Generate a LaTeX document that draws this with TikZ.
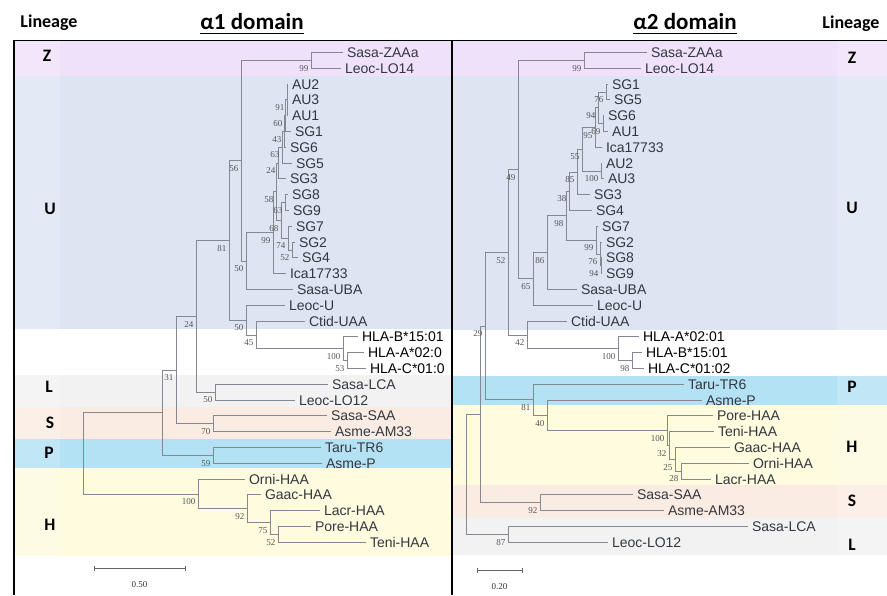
\documentclass[tikz,border=0pt]{standalone}
\usepackage{fontspec}
\setmainfont{Liberation Sans}
\newfontfamily\bsfont{Liberation Serif}
\newfontfamily\hdfont{Carlito}
\definecolor{bandZ}{HTML}{EFE1FA}
\definecolor{bandU}{HTML}{DDE5F3}
\definecolor{bandL}{HTML}{F2F2F2}
\definecolor{bandS}{HTML}{FBECE3}
\definecolor{bandP}{HTML}{B4E2F5}
\definecolor{bandH}{HTML}{FEFBDF}
\definecolor{brc}{HTML}{848890}
\definecolor{leafc}{HTML}{33373F}
\definecolor{bsc}{HTML}{555555}
\begin{document}
\begin{tikzpicture}[x=1pt,y=-1pt,
  br/.style={draw=brc, line width=0.85pt},
  lf/.style={anchor=west, inner ysep=0pt, inner xsep=0pt, outer xsep=4pt, outer ysep=0pt,
    text height=10pt, text depth=0pt, font=\fontsize{14}{14}\selectfont, text=leafc},
  lfk/.style={lf, text=black},
  bs/.style={anchor=north east, inner sep=0pt, xshift=-2.5pt, yshift=-4.5pt,
    font=\bsfont\fontsize{9}{9}\selectfont, text=bsc},
  lin/.style={anchor=base, inner sep=0pt, font=\hdfont\bfseries\fontsize{18}{18}\selectfont},
  lett/.style={anchor=base, inner sep=0pt, font=\hdfont\bfseries\fontsize{17.5}{17.5}\selectfont},
  ttl/.style={anchor=base, inner sep=0pt, text depth=0pt, font=\hdfont\bfseries\fontsize{23}{23}\selectfont},
  frame/.style={draw=black, line width=1.8pt},
  sbar/.style={draw=gray!80!black, line width=0.8pt},
  sbt/.style={inner sep=0pt, font=\bsfont\fontsize{9}{9}\selectfont, text=black!80}
]
\useasboundingbox (0,0) rectangle (887,595);
% ---------- bands, left panel ----------
\fill[bandZ] (15,41) rectangle (452,76);
\fill[bandU] (15,76) rectangle (452,329);
\fill[bandL] (15,375) rectangle (452,407);
\fill[bandS] (15,407) rectangle (452,439);
\fill[bandP] (15,439) rectangle (452,468);
\fill[bandH] (15,468) rectangle (452,556);
% ---------- bands, right panel ----------
\fill[bandZ] (453,41) rectangle (887,76);
\fill[bandU] (453,76) rectangle (887,330);
\fill[bandP] (453,376) rectangle (887,405);
\fill[bandH] (453,405) rectangle (887,485);
\fill[bandS] (453,485) rectangle (887,518);
\fill[bandL] (453,518) rectangle (887,555);
% lighter label columns
\fill[white, opacity=0.18] (15,41) rectangle (60,556);
\fill[white, opacity=0.18] (837,41) rectangle (887,556);
% ---------- headers ----------
\node[lin] (linL) at (49,27.5) {Lineage};
\node[lin] (linR) at (851,28) {Lineage};
\node[ttl] (t1) at (252,29) {α1 domain};
\node[ttl] (t2) at (685,29) {α2 domain};
\draw[line width=1.3pt] ([yshift=-4pt]t1.south west) -- ([yshift=-4pt]t1.south east);
\draw[line width=1.3pt] ([yshift=-4pt]t2.south west) -- ([yshift=-4pt]t2.south east);
% lineage letters
\node[lett] (zL) at (47,61) {Z};
\node[lett] (uL) at (50,214) {U};
\node[lett] (lL) at (49,392) {L};
\node[lett] (sL) at (50,428) {S};
\node[lett] (pL) at (49,458) {P};
\node[lett] (hL) at (50,530) {H};
\node[lett] (zR) at (852,63) {Z};
\node[lett] (uR) at (852,213) {U};
\node[lett] (pR) at (852,392) {P};
\node[lett] (hR) at (852,452) {H};
\node[lett] (sR) at (852,506) {S};
\node[lett] (lR) at (852,550) {L};
% ---------- frame ----------
\draw[frame] (14,595) -- (14,40.5) -- (887,40.5);
\draw[frame] (452,40.5) -- (452,595);

% ================= LEFT TREE (alpha1) =================
\begin{scope}[shift={(0,52.5)}, y=-15.8pt]
\coordinate (L-r0) at (83,25.37);
\coordinate (L-ing) at (162,22.8);
\coordinate (L-n31) at (176,20.1);
\coordinate (L-n24a) at (196,16.7);
\coordinate (L-n81) at (229,11.9);
\coordinate (L-n56) at (241,6.85);
\coordinate (L-nZ) at (311,0.5);
\coordinate (L-n50a) at (246,13.2);
\coordinate (L-n99) at (273,11.41);
\coordinate (L-n58) at (276,8.81);
\coordinate (L-n24b) at (278,7);
\coordinate (L-n63a) at (282,6);
\coordinate (L-n43) at (284,5);
\coordinate (L-n60) at (285,4);
\coordinate (L-n91) at (287,3);
\coordinate (L-n68) at (281,10.63);
\coordinate (L-n63b) at (285,9.5);
\coordinate (L-n74) at (288,11.75);
\coordinate (L-n52) at (292,12.5);
\coordinate (L-n50b) at (246,16.94);
\coordinate (L-n45) at (256,17.88);
\coordinate (L-n100h) at (343,18.75);
\coordinate (L-n53) at (347,19.5);
\coordinate (L-nL) at (215,21.5);
\coordinate (L-nS) at (213,23.5);
\coordinate (L-nP) at (213,25.5);
\coordinate (L-nH) at (198,27.94);
\coordinate (L-n92) at (247,28.88);
\coordinate (L-n75) at (270,29.75);
\coordinate (L-n52h) at (278,30.5);
% leaves
\node[lf] (L-ZAA) at (343,0) {Sasa-ZAAa};
\node[lf] (L-LO14) at (341,1) {Leoc-LO14};
\node[lf] (L-AU2) at (288,2) {AU2};
\node[lf] (L-AU3) at (288,3) {AU3};
\node[lf] (L-AU1) at (288,4) {AU1};
\node[lf] (L-SG1) at (291,5) {SG1};
\node[lf] (L-SG6) at (286,6) {SG6};
\node[lf] (L-SG5) at (292,7) {SG5};
\node[lf] (L-SG3) at (286,8) {SG3};
\node[lf] (L-SG8) at (288,9) {SG8};
\node[lf] (L-SG9) at (289,10) {SG9};
\node[lf] (L-SG7) at (292,11) {SG7};
\node[lf] (L-SG2) at (295,12) {SG2};
\node[lf] (L-SG4) at (298,13) {SG4};
\node[lf] (L-Ica) at (286,14) {Ica17733};
\node[lf] (L-UBA) at (293,15) {Sasa-UBA};
\node[lf] (L-LeU) at (285,16) {Leoc-U};
\node[lf] (L-Ctid) at (305,17) {Ctid-UAA};
\node[lfk] (L-HB) at (358,18) {HLA-B*15:01};
\node[lfk] (L-HA) at (364,19) {HLA-A*02:0};
\node[lfk] (L-HC) at (366,20) {HLA-C*01:0};
\node[lf] (L-LCA) at (328,21) {Sasa-LCA};
\node[lf] (L-LO12) at (295,22) {Leoc-LO12};
\node[lf] (L-SAA) at (327,23) {Sasa-SAA};
\node[lf] (L-AM33) at (331,24) {Asme-AM33};
\node[lf] (L-TR6) at (321,25) {Taru-TR6};
\node[lf] (L-AsP) at (322,26) {Asme-P};
\node[lf] (L-Orni) at (245,27) {Orni-HAA};
\node[lf] (L-Gaac) at (261,28) {Gaac-HAA};
\node[lf] (L-Lacr) at (320,29) {Lacr-HAA};
\node[lf] (L-Pore) at (311,30) {Pore-HAA};
\node[lf] (L-Teni) at (366,31) {Teni-HAA};
% branches
\draw[br] (L-r0) |- (L-ing);   \draw[br] (L-r0) |- (L-nH);
\draw[br] (L-ing) |- (L-n31);  \draw[br] (L-ing) |- (L-nP);
\draw[br] (L-n31) |- (L-n24a); \draw[br] (L-n31) |- (L-nS);
\draw[br] (L-n24a) |- (L-n81); \draw[br] (L-n24a) |- (L-nL);
\draw[br] (L-n81) |- (L-n56);  \draw[br] (L-n81) |- (L-n50b);
\draw[br] (L-n56) |- (L-nZ);   \draw[br] (L-n56) |- (L-n50a);
\draw[br] (L-nZ) |- (L-ZAA);   \draw[br] (L-nZ) |- (L-LO14);
\draw[br] (L-n50a) |- (L-n99); \draw[br] (L-n50a) |- (L-UBA);
\draw[br] (L-n99) |- (L-n58);  \draw[br] (L-n99) |- (L-Ica);
\draw[br] (L-n58) |- (L-n24b); \draw[br] (L-n58) |- (L-n68);
\draw[br] (L-n24b) |- (L-n63a);\draw[br] (L-n24b) |- (L-SG3);
\draw[br] (L-n63a) |- (L-n43); \draw[br] (L-n63a) |- (L-SG5);
\draw[br] (L-n43) |- (L-n60);  \draw[br] (L-n43) |- (L-SG6);
\draw[br] (L-n60) |- (L-n91);  \draw[br] (L-n60) |- (L-SG1);
\draw[br] (L-n91) |- (L-AU2);  \draw[br] (L-n91) |- (L-AU3); \draw[br] (L-n91) |- (L-AU1);
\draw[br] (L-n68) |- (L-n63b); \draw[br] (L-n68) |- (L-n74);
\draw[br] (L-n63b) |- (L-SG8); \draw[br] (L-n63b) |- (L-SG9);
\draw[br] (L-n74) |- (L-SG7);  \draw[br] (L-n74) |- (L-n52);
\draw[br] (L-n52) |- (L-SG2);  \draw[br] (L-n52) |- (L-SG4);
\draw[br] (L-n50b) |- (L-LeU); \draw[br] (L-n50b) |- (L-n45);
\draw[br] (L-n45) |- (L-Ctid); \draw[br] (L-n45) |- (L-n100h);
\draw[br] (L-n100h) |- (L-HB); \draw[br] (L-n100h) |- (L-n53);
\draw[br] (L-n53) |- (L-HA);   \draw[br] (L-n53) |- (L-HC);
\draw[br] (L-nL) |- (L-LCA);   \draw[br] (L-nL) |- (L-LO12);
\draw[br] (L-nS) |- (L-SAA);   \draw[br] (L-nS) |- (L-AM33);
\draw[br] (L-nP) |- (L-TR6);   \draw[br] (L-nP) |- (L-AsP);
\draw[br] (L-nH) |- (L-Orni);  \draw[br] (L-nH) |- (L-n92);
\draw[br] (L-n92) |- (L-Gaac); \draw[br] (L-n92) |- (L-n75);
\draw[br] (L-n75) |- (L-Lacr); \draw[br] (L-n75) |- (L-n52h);
\draw[br] (L-n52h) |- (L-Pore);\draw[br] (L-n52h) |- (L-Teni);
% bootstrap values
\node[bs] (Lb1) at (L-nZ) {99};
\node[bs] (Lb2) at (L-n91) {91};
\node[bs] (Lb3) at (L-n60) {60};
\node[bs] (Lb4) at (L-n43) {43};
\node[bs] (Lb5) at (L-n63a) {63};
\node[bs] (Lb6) at (L-n24b) {24};
\node[bs] (Lb7) at (L-n58) {58};
\node[bs] (Lb8) at (L-n63b) {63};
\node[bs] (Lb9) at (L-n68) {68};
\node[bs] (Lb10) at (L-n99) {99};
\node[bs] (Lb11) at (L-n74) {74};
\node[bs] (Lb12) at (L-n52) {52};
\node[bs] (Lb13) at (L-n50a) {50};
\node[bs] (Lb14) at (L-n56) {56};
\node[bs] (Lb15) at (L-n81) {81};
\node[bs] (Lb16) at (L-n24a) {24};
\node[bs] (Lb17) at (L-n50b) {50};
\node[bs] (Lb18) at (L-n45) {45};
\node[bs] (Lb19) at (L-n100h) {100};
\node[bs] (Lb20) at (L-n53) {53};
\node[bs] (Lb21) at (L-nL) {50};
\node[bs] (Lb22) at (L-n31) {31};
\node[bs] (Lb23) at (L-nS) {70};
\node[bs] (Lb24) at (L-nP) {59};
\node[bs] (Lb25) at (L-nH) {100};
\node[bs] (Lb26) at (L-n92) {92};
\node[bs] (Lb27) at (L-n75) {75};
\node[bs] (Lb28) at (L-n52h) {52};
\end{scope}

% ================= RIGHT TREE (alpha2) =================
\begin{scope}[shift={(0,52.5)}, y=-15.8pt]
\coordinate (R-root) at (466,26.7);
\coordinate (R-in) at (480,22.9);
\coordinate (R-n29) at (485,17.32);
\coordinate (R-n52) at (508,12.65);
\coordinate (R-n49) at (518,7.42);
\coordinate (R-nZ) at (584,0.5);
\coordinate (R-n65) at (533,14.33);
\coordinate (R-n86) at (547,12.66);
\coordinate (R-n98) at (566,10.33);
\coordinate (R-n38) at (569,8.78);
\coordinate (R-n85) at (577,7.56);
\coordinate (R-n55) at (582,6.13);
\coordinate (R-n95) at (595,4.75);
\coordinate (R-n94) at (598,3.5);
\coordinate (R-n76) at (606,2.5);
\coordinate (R-n69) at (603,4.5);
\coordinate (R-n100a) at (601,7.5);
\coordinate (R-n99) at (596,11.88);
\coordinate (R-n76b) at (600,12.75);
\coordinate (R-n94b) at (601,13.5);
\coordinate (R-n42) at (527,17.88);
\coordinate (R-n100c) at (618,18.75);
\coordinate (R-n98c) at (632,19.5);
\coordinate (R-n81) at (533,21.98);
\coordinate (R-n40) at (547,22.97);
\coordinate (R-n100H) at (667,23.94);
\coordinate (R-n32) at (669,24.88);
\coordinate (R-n25) at (675,25.75);
\coordinate (R-n28) at (681,26.5);
\coordinate (R-n92) at (540,28.5);
\coordinate (R-n87) at (508,30.5);
% leaves
\node[lf] (R-ZAA) at (647,0) {Sasa-ZAAa};
\node[lf] (R-LO14) at (641,1) {Leoc-LO14};
\node[lf] (R-SG1) at (608,2) {SG1};
\node[lf] (R-SG5) at (610,3) {SG5};
\node[lf] (R-SG6) at (604,4) {SG6};
\node[lf] (R-AU1) at (608,5) {AU1};
\node[lf] (R-Ica) at (602,6) {Ica17733};
\node[lf] (R-AU2) at (602,7) {AU2};
\node[lf] (R-AU3) at (604,8) {AU3};
\node[lf] (R-SG3) at (590,9) {SG3};
\node[lf] (R-SG4) at (592,10) {SG4};
\node[lf] (R-SG7) at (598,11) {SG7};
\node[lf] (R-SG2) at (602,12) {SG2};
\node[lf] (R-SG8) at (602,13) {SG8};
\node[lf] (R-SG9) at (602,14) {SG9};
\node[lf] (R-UBA) at (577,15) {Sasa-UBA};
\node[lf] (R-LeU) at (593,16) {Leoc-U};
\node[lf] (R-Ctid) at (567,17) {Ctid-UAA};
\node[lfk] (R-HA) at (639,18) {HLA-A*02:01};
\node[lfk] (R-HB) at (642,19) {HLA-B*15:01};
\node[lfk] (R-HC) at (644,20) {HLA-C*01:02};
\node[lf] (R-TR6) at (684,21) {Taru-TR6};
\node[lf] (R-AsP) at (702,22) {Asme-P};
\node[lf] (R-Pore) at (713,23) {Pore-HAA};
\node[lf] (R-Teni) at (714,24) {Teni-HAA};
\node[lf] (R-Gaac) at (730,25) {Gaac-HAA};
\node[lf] (R-Orni) at (749,26) {Orni-HAA};
\node[lf] (R-Lacr) at (711,27) {Lacr-HAA};
\node[lf] (R-SAA) at (633,28) {Sasa-SAA};
\node[lf] (R-AM33) at (664,29) {Asme-AM33};
\node[lf] (R-LCA) at (748,30) {Sasa-LCA};
\node[lf] (R-LO12) at (608,31) {Leoc-LO12};
% branches
\draw[br] (R-root) |- (R-in);   \draw[br] (R-root) |- (R-n87);
\draw[br] (R-in) |- (R-n29);    \draw[br] (R-in) |- (R-n92);
\draw[br] (R-n29) |- (R-n52);   \draw[br] (R-n29) |- (R-n81);
\draw[br] (R-n52) |- (R-n49);   \draw[br] (R-n52) |- (R-n42);
\draw[br] (R-n49) |- (R-nZ);    \draw[br] (R-n49) |- (R-n65);
\draw[br] (R-nZ) |- (R-ZAA);    \draw[br] (R-nZ) |- (R-LO14);
\draw[br] (R-n65) |- (R-n86);   \draw[br] (R-n65) |- (R-LeU);
\draw[br] (R-n86) |- (R-n98);   \draw[br] (R-n86) |- (R-UBA);
\draw[br] (R-n98) |- (R-n38);   \draw[br] (R-n98) |- (R-n99);
\draw[br] (R-n38) |- (R-n85);   \draw[br] (R-n38) |- (R-SG4);
\draw[br] (R-n85) |- (R-n55);   \draw[br] (R-n85) |- (R-SG3);
\draw[br] (R-n55) |- (R-n95);   \draw[br] (R-n55) |- (R-n100a);
\draw[br] (R-n95) |- (R-n94);   \draw[br] (R-n95) |- (R-Ica);
\draw[br] (R-n94) |- (R-n76);   \draw[br] (R-n94) |- (R-n69);
\draw[br] (R-n76) |- (R-SG1);   \draw[br] (R-n76) |- (R-SG5);
\draw[br] (R-n69) |- (R-SG6);   \draw[br] (R-n69) |- (R-AU1);
\draw[br] (R-n100a) |- (R-AU2); \draw[br] (R-n100a) |- (R-AU3);
\draw[br] (R-n99) |- (R-SG7);   \draw[br] (R-n99) |- (R-n76b);
\draw[br] (R-n76b) |- (R-SG2);  \draw[br] (R-n76b) |- (R-n94b);
\draw[br] (R-n94b) |- (R-SG8);  \draw[br] (R-n94b) |- (R-SG9);
\draw[br] (R-n42) |- (R-Ctid);  \draw[br] (R-n42) |- (R-n100c);
\draw[br] (R-n100c) |- (R-HA);  \draw[br] (R-n100c) |- (R-n98c);
\draw[br] (R-n98c) |- (R-HB);   \draw[br] (R-n98c) |- (R-HC);
\draw[br] (R-n81) |- (R-TR6);   \draw[br] (R-n81) |- (R-n40);
\draw[br] (R-n40) |- (R-AsP);   \draw[br] (R-n40) |- (R-n100H);
\draw[br] (R-n100H) |- (R-Pore);\draw[br] (R-n100H) |- (R-n32);
\draw[br] (R-n32) |- (R-Teni);  \draw[br] (R-n32) |- (R-n25);
\draw[br] (R-n25) |- (R-Gaac);  \draw[br] (R-n25) |- (R-n28);
\draw[br] (R-n28) |- (R-Orni);  \draw[br] (R-n28) |- (R-Lacr);
\draw[br] (R-n92) |- (R-SAA);   \draw[br] (R-n92) |- (R-AM33);
\draw[br] (R-n87) |- (R-LCA);   \draw[br] (R-n87) |- (R-LO12);
% bootstrap values
\node[bs] (Rb1) at (R-nZ) {99};
\node[bs] (Rb2) at (R-n76) {76};
\node[bs] (Rb3) at (R-n94) {94};
\node[bs] (Rb4) at (R-n69) {69};
\node[bs] (Rb5) at (R-n95) {95};
\node[bs] (Rb6) at (R-n55) {55};
\node[bs] (Rb7) at (R-n100a) {100};
\node[bs] (Rb8) at (R-n85) {85};
\node[bs] (Rb9) at (R-n38) {38};
\node[bs] (Rb10) at (R-n98) {98};
\node[bs] (Rb11) at (R-n99) {99};
\node[bs] (Rb12) at (R-n76b) {76};
\node[bs] (Rb13) at (R-n94b) {94};
\node[bs] (Rb14) at (R-n86) {86};
\node[bs] (Rb15) at (R-n65) {65};
\node[bs] (Rb16) at (R-n49) {49};
\node[bs] (Rb17) at (R-n52) {52};
\node[bs] (Rb18) at (R-n42) {42};
\node[bs] (Rb19) at (R-n100c) {100};
\node[bs] (Rb20) at (R-n98c) {98};
\node[bs] (Rb21) at (R-n29) {29};
\node[bs] (Rb22) at (R-n81) {81};
\node[bs] (Rb23) at (R-n40) {40};
\node[bs] (Rb24) at (R-n100H) {100};
\node[bs] (Rb25) at (R-n32) {32};
\node[bs] (Rb26) at (R-n25) {25};
\node[bs] (Rb27) at (R-n28) {28};
\node[bs] (Rb28) at (R-n92) {92};
\node[bs] (Rb29) at (R-n87) {87};
\end{scope}

% ---------- scale bars ----------
\coordinate (sbL1) at (94,568);
\coordinate (sbL2) at (185,568);
\draw[sbar] (sbL1) -- (sbL2);
\draw[sbar] ([yshift=2.5pt]sbL1) -- ([yshift=-2.5pt]sbL1);
\draw[sbar] ([yshift=2.5pt]sbL2) -- ([yshift=-2.5pt]sbL2);
\node[sbt] (sbLt) at (139.5,585) {0.50};
\coordinate (sbR1) at (477,570);
\coordinate (sbR2) at (522,570);
\draw[sbar] (sbR1) -- (sbR2);
\draw[sbar] ([yshift=2.5pt]sbR1) -- ([yshift=-2.5pt]sbR1);
\draw[sbar] ([yshift=2.5pt]sbR2) -- ([yshift=-2.5pt]sbR2);
\node[sbt] (sbRt) at (499.5,587) {0.20};
\end{tikzpicture}
\end{document}
